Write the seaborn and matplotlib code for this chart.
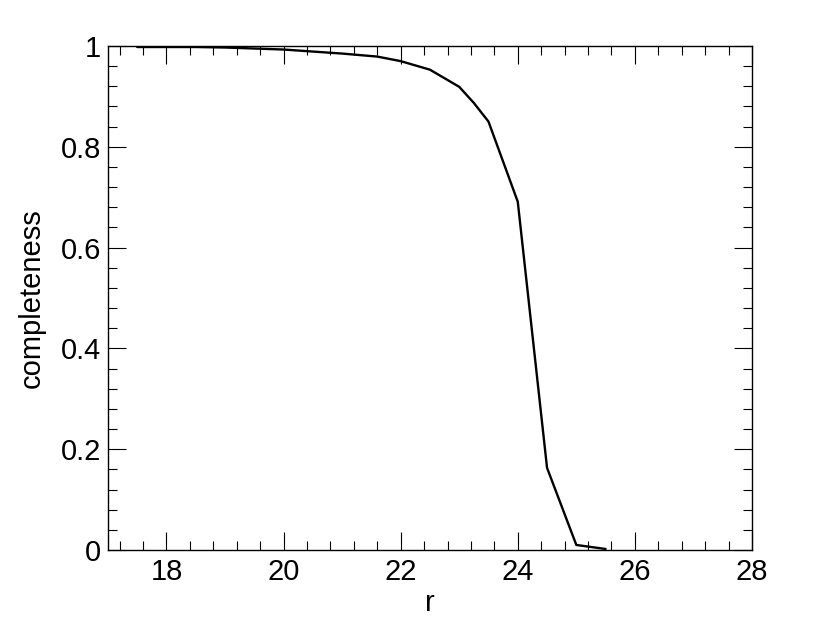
import numpy as np
import pandas as pd
import matplotlib
matplotlib.use("Agg")
import matplotlib.pyplot as plt
import seaborn as sns
from matplotlib.ticker import MultipleLocator

# ------------------------------------------------------------------
# data
# ------------------------------------------------------------------
r_mag = [17.5, 18.0, 18.5, 19.0, 19.5, 20.0, 20.5, 21.0, 21.6, 22.0,
         22.5, 23.0, 23.25, 23.5, 24.0, 24.5, 25.0, 25.5]
completeness = [0.998, 0.998, 0.998, 0.997, 0.995, 0.993, 0.989, 0.985,
                0.979, 0.970, 0.953, 0.919, 0.887, 0.850, 0.691, 0.163,
                0.010, 0.002]

y_ticks = [0, 0.2, 0.4, 0.6, 0.8, 1.0]
y_tick_labels = ["0", "0.2", "0.4", "0.6", "0.8", "1"]

df = pd.DataFrame({"r": r_mag, "completeness": completeness})

# ------------------------------------------------------------------
# plot
# ------------------------------------------------------------------
sns.set_theme(style="ticks")
plt.rcParams["font.family"] = ["Liberation Sans", "DejaVu Sans"]

fig = plt.figure(figsize=(8.3, 6.25), dpi=100)
ax = fig.add_axes([0.130, 0.12, 0.776, 0.8064])

sns.lineplot(data=df, x="r", y="completeness", color="black",
             linewidth=1.7, ax=ax)

ax.set_xlim(17, 28)
ax.set_ylim(0, 1)
ax.xaxis.set_major_locator(MultipleLocator(2))
ax.xaxis.set_minor_locator(MultipleLocator(0.4))
ax.yaxis.set_minor_locator(MultipleLocator(0.04))
ax.set_yticks(y_ticks)
ax.set_yticklabels(y_tick_labels)

ax.tick_params(which="both", direction="in", top=True, right=True,
               color="black", labelsize=21, labelcolor="black")
ax.tick_params(which="major", length=13, width=0.8, pad=5)
ax.tick_params(which="minor", length=6.5, width=0.8)
ax.tick_params(axis="x", which="major", pad=6)

for sp in ax.spines.values():
    sp.set_color("black")
    sp.set_linewidth(1.0)
    sp.set_visible(True)

ax.set_xlabel("r", fontsize=21, color="black", labelpad=2)
ax.set_ylabel("completeness", fontsize=21, color="black", labelpad=11)

fig.savefig("out.png", dpi=100, facecolor="white")
